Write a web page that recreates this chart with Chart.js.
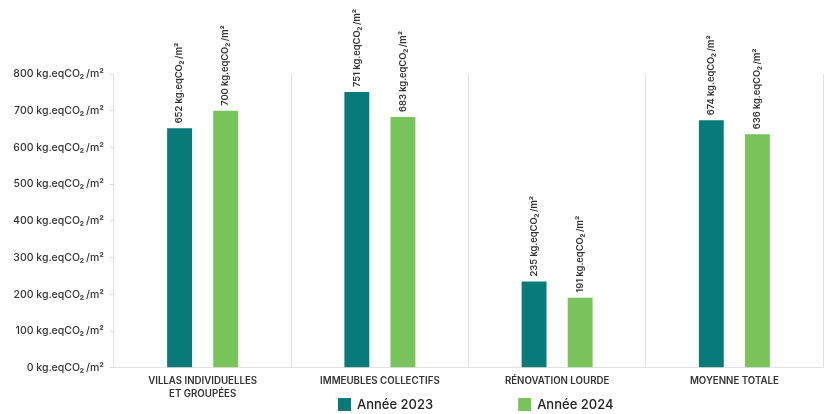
<!DOCTYPE html>
<html>
<head>
<meta charset="utf-8">
<script src="https://cdn.jsdelivr.net/npm/chart.js@4"></script>
<style>
    html, body { margin: 0; padding: 0; background: #fff; }
    #wrap { width: 827px; height: 414px; position: relative; }
</style>
</head>
<body>
<div id="wrap"><canvas id="co2Chart"></canvas></div>
<script>
const categories = [
    ['VILLAS INDIVIDUELLES', 'ET GROUPÉES'],
    'IMMEUBLES COLLECTIFS',
    'RÉNOVATION LOURDE',
    'MOYENNE TOTALE'
];
const values2023 = [652, 751, 235, 674];
const values2024 = [700, 683, 191, 636];
const seriesNames = ['Année 2023', 'Année 2024'];
const seriesColors = ['#087A79', '#78C35A'];
const unit = 'kg.eqCO₂\u2009/m²';

// Labels rotated above each bar
const barLabels = {
    id: 'barLabels',
    afterDatasetsDraw(chart) {
        const ctx = chart.ctx;
        ctx.save();
        ctx.fillStyle = '#333';
        ctx.font = '600 9.3px Inter, sans-serif';
        ctx.textAlign = 'left';
        ctx.textBaseline = 'middle';
        chart.data.datasets.forEach((ds, i) => {
            chart.getDatasetMeta(i).data.forEach((bar, j) => {
                ctx.save();
                ctx.translate(bar.x, bar.y - 5);
                ctx.rotate(-Math.PI / 2);
                ctx.fillText(`${ds.data[j]} ${unit}`, 0, 0);
                ctx.restore();
            });
        });
        ctx.restore();
    }
};

// Legend drawn at the bottom with wide spacing
const bottomLegend = {
    id: 'bottomLegend',
    afterDraw(chart) {
        const ctx = chart.ctx;
        const box = 13, gap = 85, y = chart.height - 16;
        ctx.save();
        ctx.font = '500 13px Inter, sans-serif';
        ctx.textBaseline = 'middle';
        ctx.textAlign = 'left';
        let x = chart.chartArea.left + 224;
        chart.data.datasets.forEach(ds => {
            ctx.fillStyle = ds.backgroundColor;
            ctx.fillRect(x, y, box, box);
            ctx.fillStyle = '#222';
            ctx.fillText(ds.label, x + box + 6, y + box / 2 + 1);
            x += box + 6 + ctx.measureText(ds.label).width + gap;
        });
        ctx.restore();
    }
};

new Chart(document.getElementById('co2Chart'), {
    type: 'bar',
    data: {
        labels: categories,
        datasets: [{
            label: seriesNames[0],
            data: values2023,
            backgroundColor: seriesColors[0]
        }, {
            label: seriesNames[1],
            data: values2024,
            backgroundColor: seriesColors[1]
        }]
    },
    options: {
        responsive: true,
        maintainAspectRatio: false,
        animation: false,
        layout: {
            padding: { top: 74, right: 4, left: 7, bottom: 6 }
        },
        datasets: {
            bar: {
                categoryPercentage: 0.52,
                barPercentage: 0.54
            }
        },
        scales: {
            y: {
                min: 0,
                max: 800,
                ticks: {
                    stepSize: 100,
                    color: '#333',
                    padding: 6,
                    font: { family: 'Inter, sans-serif', size: 10.5, weight: '500' },
                    callback: value => `${value} ${unit}`
                },
                grid: {
                    drawOnChartArea: false,
                    drawTicks: true,
                    tickLength: 4,
                    color: '#d9d9d9'
                },
                border: { color: '#e2e2e2' }
            },
            x: {
                grid: {
                    offset: true,
                    drawTicks: false,
                    color: '#e2e2e2'
                },
                border: { color: '#e2e2e2' },
                ticks: {
                    color: '#333',
                    padding: 7,
                    font: { family: 'Inter, sans-serif', size: 9.7, weight: '600', lineHeight: 1.35 }
                }
            }
        },
        plugins: {
            legend: { display: false },
            tooltip: { enabled: false }
        }
    },
    plugins: [barLabels, bottomLegend]
});
</script>
</body>
</html>
